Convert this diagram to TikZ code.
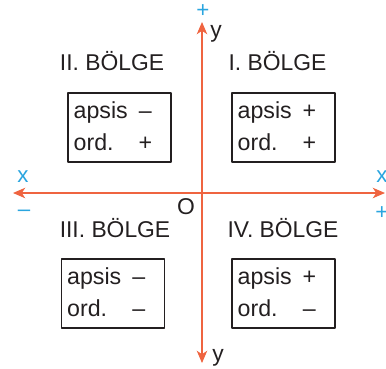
\documentclass[tikz,border=0pt]{standalone}
\usepackage{fontspec}
\setmainfont{Liberation Sans}
\usetikzlibrary{arrows.meta,positioning}
\definecolor{axisred}{HTML}{EF6440}
\definecolor{signblue}{HTML}{2AA5DF}
\definecolor{ink}{HTML}{231F20}
\tikzset{
    every picture/.style={line cap=round,line join=round},
    axisline/.style={draw=axisred,line width=0.75pt,
      {Stealth[length=7pt,width=6pt,inset=2pt]}-{Stealth[length=7pt,width=6pt,inset=2pt]}},
    signbox/.style={draw=ink,line width=0.75pt,minimum width=2.06cm,
      minimum height=1.38cm,inner sep=0pt},
    regionlabel/.style={text=ink,font=\fontsize{13}{15}\selectfont,anchor=base,inner sep=0pt},
    rowtext/.style={text=ink,font=\fontsize{13.2}{15}\selectfont,anchor=base west,inner sep=0pt},
    rowsign/.style={text=ink,font=\fontsize{13.2}{15}\selectfont,anchor=base,inner sep=0pt},
    axisname/.style={text=ink,font=\fontsize{13}{15}\selectfont,inner sep=0pt},
    bluemark/.style={text=signblue,font=\fontsize{12.7}{15}\selectfont,inner sep=0pt}
}
% one box with the signs of abscissa and ordinate
\newcommand{\quadbox}[4]{%
  \node[signbox] (#1) at (#2) {};
  \node[rowtext] (#1a) at ([shift={(6,26)}]#1.north west) {apsis};
  \node[rowsign] (#1as) at ([shift={(78,26)}]#1.north west) {#3};
  \node[rowtext] (#1o) at ([shift={(6,58.5)}]#1.north west) {ord.};
  \node[rowsign] (#1os) at ([shift={(78,58.5)}]#1.north west) {#4};
}

\begin{document}
\begin{tikzpicture}[x=0.02cm,y=-0.02cm]
  \useasboundingbox (0,0) rectangle (386,369);
  % axes
  \coordinate (xl) at (13,193);
  \coordinate (xr) at (385,193);
  \coordinate (yt) at (202,22);
  \coordinate (yb) at (202,363);
  \draw[axisline] (xl) -- (xr);
  \draw[axisline] (yb) -- (yt);
  \node[axisname] (o) at (186,207) {O};
  \node[axisname,anchor=base west] (ytop) at (210,37) {y};
  \node[axisname,anchor=base west] (ybot) at (212,361) {y};
  % blue marks
  \node[bluemark] (xleft) at (23,177) {x};
  \node[bluemark] (xright) at (382,177) {x};
  \node[bluemark] (mleft) at (24,213) {\textendash};
  \node[bluemark] (pright) at (382,213) {+};
  \node[bluemark] (ptop) at (203,11) {+};
  % the four regions
  \node[regionlabel] (l2) at (112,70) {II. BÖLGE};
  \node[regionlabel] (l1) at (277.5,70) {I. BÖLGE};
  \node[regionlabel] (l3) at (115,237) {III. BÖLGE};
  \node[regionlabel] (l4) at (283,237) {IV. BÖLGE};
  \quadbox{q2}{119.5,127.5}{\textendash}{+}
  \quadbox{q1}{283.5,127.5}{+}{+}
  \quadbox{q3}{113,293.5}{\textendash}{\textendash}
  \quadbox{q4}{283.5,293.5}{+}{\textendash}
\end{tikzpicture}
\end{document}
